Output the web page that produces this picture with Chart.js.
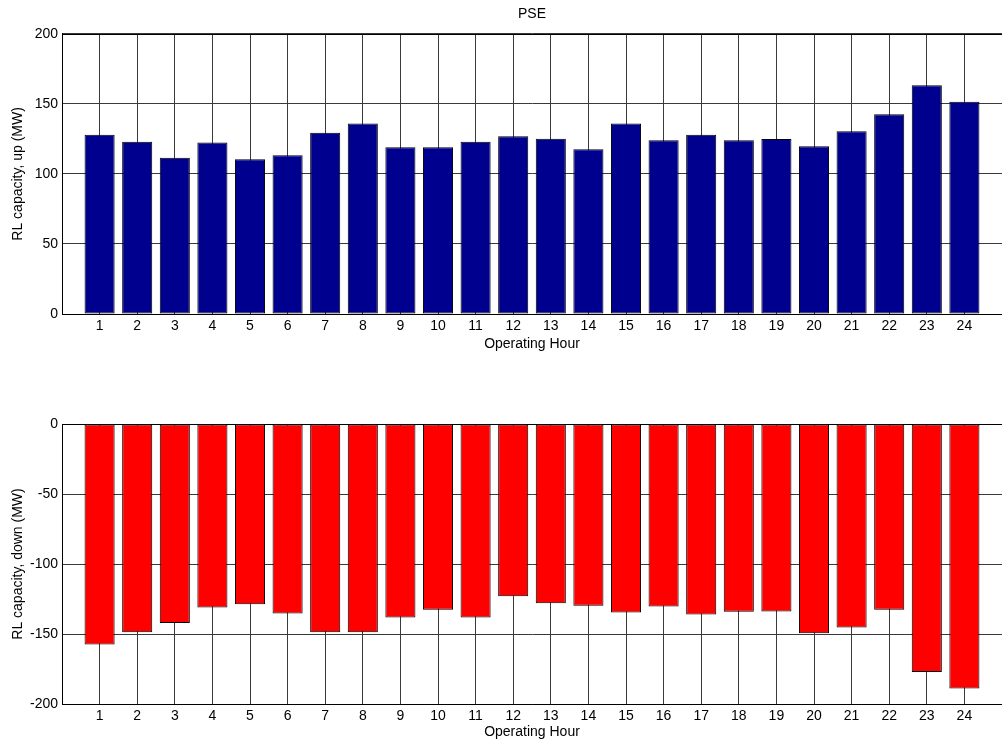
<!DOCTYPE html>
<html><head><meta charset="utf-8">
<script src="https://cdn.jsdelivr.net/npm/chart.js@4/dist/chart.umd.min.js"></script>
<style>
html,body{margin:0;padding:0;background:#fff;}
#wrap{position:relative;width:1002px;height:748px;overflow:hidden;background:#fff;}
canvas{position:absolute;left:0;}
</style></head><body>
<div id="wrap">
<canvas id="c1" width="1002" height="374" style="top:0"></canvas>
<canvas id="c2" width="1002" height="374" style="top:374px"></canvas>
</div>
<script>
// ---- data ----
const hours = [1,2,3,4,5,6,7,8,9,10,11,12,13,14,15,16,17,18,19,20,21,22,23,24];
const hourLabels = ['1','2','3','4','5','6','7','8','9','10','11','12','13','14','15','16','17','18','19','20','21','22','23','24'];
const upCapacity = [128, 123, 111.6, 122.5, 110.5, 113.3, 129.4, 136, 119, 119, 123, 126.8,
                    125.1, 117.6, 136, 124, 128, 124, 125, 119.7, 130.4, 142.5, 163.3, 151.5];
const downCapacity = [-157.5, -148.7, -142.2, -131, -128.8, -135.3, -148.7, -148.7, -138.2, -132.7, -138.2, -123.1,
                      -128.1, -129.8, -134.6, -130.3, -136, -134.1, -133.9, -149.4, -145.3, -132.7, -177.1, -189];
const titleText = 'PSE';
const xTitle = 'Operating Hour';
const upTitle = 'RL capacity, up (MW)';
const downTitle = 'RL capacity, down (MW)';
const xRange = [0, 25];
const upRange = [0, 200];
const downRange = [-200, 0];
const yStep = 50;

// ---- style ----
const FONT = "'Liberation Sans', Arial, Helvetica, sans-serif";
const FS = 14;
Chart.defaults.font.family = FONT;
Chart.defaults.font.size = FS;
Chart.defaults.color = '#000';
const GRID = '#3a3a3a';

const framePlugin = {
  id: 'frame',
  afterDatasetsDraw(chart) {
    const {ctx, chartArea: a} = chart;
    ctx.save();
    ctx.strokeStyle = '#000';
    ctx.lineWidth = 1;
    ctx.beginPath();
    const t = Math.round(a.top) + 0.5;
    ctx.moveTo(a.left, t); ctx.lineTo(a.right, t);
    ctx.stroke();
    ctx.restore();
  }
};

function makeChart(id, values, color, yRange, yTitle, opts) {
  return new Chart(document.getElementById(id), {
    type: 'bar',
    data: {
      datasets: [{
        data: hours.map((h, i) => ({x: h, y: values[i]})),
        backgroundColor: color,
        borderColor: '#000',
        borderWidth: 1,
        borderSkipped: false,
        barPercentage: 0.8,
        categoryPercentage: 1.0
      }]
    },
    options: {
      responsive: false,
      animation: false,
      events: [],
      layout: {padding: {left: 0, right: 0, top: opts.padTop, bottom: 0}},
      plugins: {
        legend: {display: false},
        tooltip: {enabled: false},
        title: {
          display: !!opts.title,
          text: opts.title || '',
          fullSize: false,
          font: {size: FS, weight: 'normal'},
          color: '#000',
          padding: {top: 6, bottom: 11}
        }
      },
      scales: {
        x: {
          type: 'linear',
          min: xRange[0], max: xRange[1],
          offset: false,
          afterFit: s => { s.height = opts.xHeight; s.paddingLeft = 0; s.paddingRight = 0; },
          grid: {
            color: c => (c.tick && c.tick.value >= xRange[1]) ? 'rgba(0,0,0,0)' : GRID,
            lineWidth: 1, drawTicks: false, offset: false
          },
          border: {display: true, color: '#000', width: 1},
          ticks: {
            stepSize: 1, autoSkip: false, maxRotation: 0, minRotation: 0, padding: 4,
            callback: v => (v >= 1 && v <= hourLabels.length) ? hourLabels[v - 1] : ''
          },
          title: {display: true, text: xTitle, font: {size: FS}, padding: {top: 0, bottom: opts.xTitlePad}}
        },
        y: {
          min: yRange[0], max: yRange[1],
          afterFit: s => { s.width = 62; },
          grid: {color: GRID, lineWidth: 1, drawTicks: false},
          border: {display: true, color: '#000', width: 1},
          ticks: {stepSize: yStep, padding: 4},
          title: {display: true, text: yTitle, font: {size: FS}, padding: {top: 10, bottom: 0}}
        }
      }
    },
    plugins: [framePlugin]
  });
}

makeChart('c1', upCapacity, '#00008f', upRange, upTitle,
  {title: titleText, padTop: 0, xHeight: 60, xTitlePad: 21});
makeChart('c2', downCapacity, '#ff0000', downRange, downTitle,
  {title: null, padTop: 50, xHeight: 44, xTitlePad: 7});
</script>
</body></html>
